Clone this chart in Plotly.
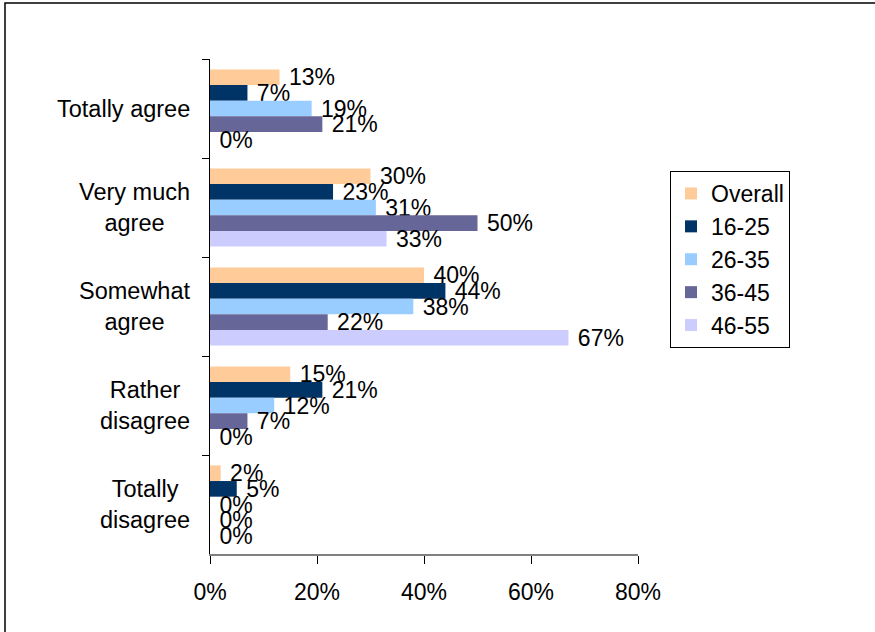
import plotly.graph_objects as go

categories = ["Totally agree", "Very much agree", "Somewhat agree", "Rather disagree", "Totally disagree"]
category_labels = ["Totally agree", "Very much<br>agree", "Somewhat<br>agree", "Rather<br>disagree", "Totally<br>disagree"]
series_names = ["Overall", "16-25", "26-35", "36-45", "46-55"]
overall = [13, 30, 40, 15, 2]
age_16_25 = [7, 23, 44, 21, 5]
age_26_35 = [19, 31, 38, 12, 0]
age_36_45 = [21, 50, 22, 7, 0]
age_46_55 = [0, 33, 67, 0, 0]
x_ticks = [0, 20, 40, 60, 80]
x_tick_labels = ["0%", "20%", "40%", "60%", "80%"]

series_values = [overall, age_16_25, age_26_35, age_36_45, age_46_55]
colors = ["#FFCC99", "#003366", "#99CCFF", "#666699", "#CCCCFF"]

FONT = "Liberation Sans, Arial, sans-serif"
W, H = 875, 632
L, R, T, B = 210, 638, 59, 554  # plot area pixel bounds

fig = go.Figure()
for name, vals, col in zip(series_names, series_values, colors):
    fig.add_trace(go.Bar(
        y=categories, x=vals, name=name, orientation="h",
        marker=dict(color=col, line=dict(width=0)),
        text=["\u00a0" + str(v) + "%" for v in vals],
        textposition="outside",
        constraintext="none", cliponaxis=False,
        textfont=dict(family=FONT, size=23, color="black"),
        hoverinfo="skip",
    ))

annotations = []
for cat, lab in zip(categories, category_labels):
    annotations.append(dict(
        x=0, xref="paper", y=cat, yref="y", text=lab, showarrow=False,
        xanchor="right", yanchor="middle", align="center", xshift=-18,
        font=dict(family=FONT, size=23.5, color="black"),
    ))

pw, ph = R - L, B - T
fig.add_shape(type="rect", xref="paper", yref="paper",
              x0=(5 - L) / pw, x1=(900 - L) / pw,
              y0=(B - 660) / ph, y1=(B - 3) / ph,
              line=dict(color="black", width=1.5), fillcolor="rgba(0,0,0,0)", layer="below")

fig.update_layout(
    width=W, height=H,
    margin=dict(l=L, r=W - R, t=T, b=H - B, pad=0),
    paper_bgcolor="white", plot_bgcolor="white",
    barmode="group", bargap=0.21, bargroupgap=0,
    font=dict(family=FONT, size=23, color="black"),
    showlegend=True,
    legend=dict(
        x=(670 - L) / pw, y=(B - 171) / ph, xanchor="left", yanchor="top",
        bordercolor="black", borderwidth=1, bgcolor="white",
        font=dict(family=FONT, size=23, color="black"),
        traceorder="normal", tracegroupgap=0,
    ),
    annotations=annotations,
    xaxis=dict(
        range=[0, 80], tickmode="array", tickvals=x_ticks, ticktext=x_tick_labels,
        showgrid=False, zeroline=False,
        showline=True, linecolor="#808080", linewidth=2,
        ticks="outside", ticklen=8, tickcolor="black", tickwidth=1,
        tickfont=dict(family=FONT, size=23, color="black"),
        ticklabelstandoff=8,
    ),
    yaxis=dict(
        type="category", categoryorder="array", categoryarray=categories,
        autorange="reversed", showticklabels=False,
        showgrid=False, zeroline=False,
        showline=True, linecolor="black", linewidth=1,
        ticks="outside", ticklen=7, tickcolor="black", tickson="boundaries",
    ),
)

fig.write_html("out.html")
